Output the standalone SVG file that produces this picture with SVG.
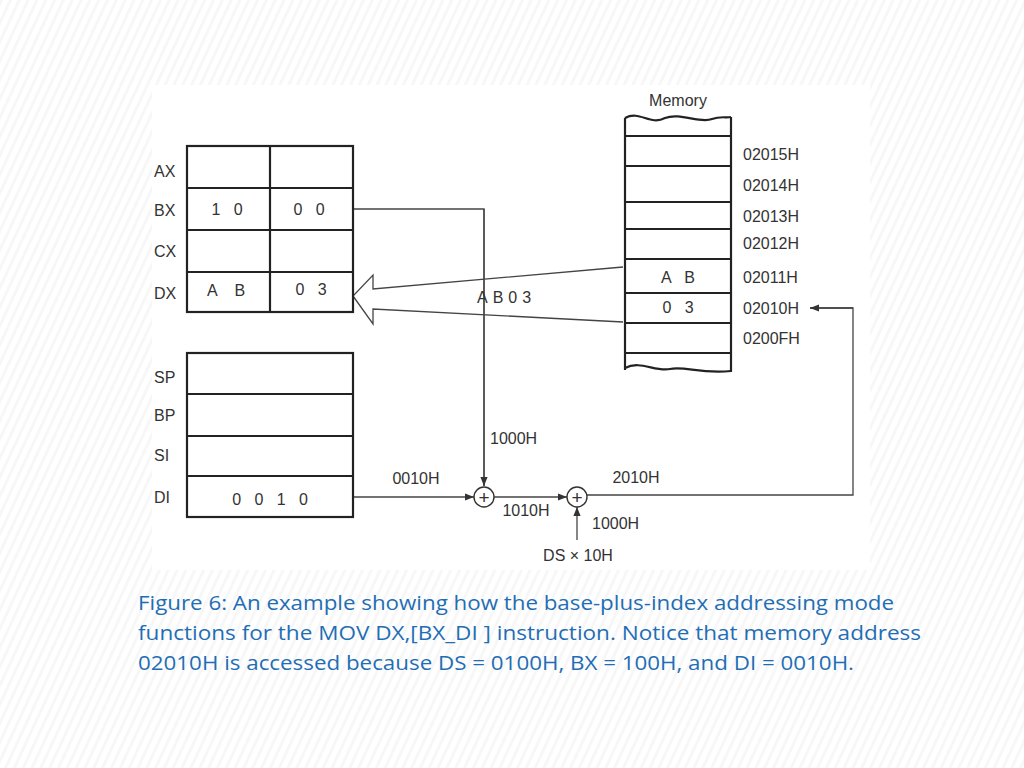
<svg xmlns="http://www.w3.org/2000/svg" width="1024" height="768" viewBox="0 0 1024 768" xml:space="preserve">
<defs>
<pattern id="stripes" width="8" height="8" patternUnits="userSpaceOnUse" patternTransform="rotate(25)">
<rect width="8" height="8" fill="#ffffff"/>
<rect width="3" height="8" fill="#f7f7f7"/>
</pattern>
<marker id="ah" viewBox="0 0 10 10" refX="10" refY="5" markerWidth="9" markerHeight="9" markerUnits="userSpaceOnUse" orient="auto">
<path d="M0,1 L10,5 L0,9 Z" fill="#333"/>
</marker>
<style>
.lbl{font-family:"Liberation Sans",Arial,sans-serif;font-size:16px;fill:#333;white-space:pre}
.plus{font-family:"Liberation Sans",Arial,sans-serif;font-size:19px;fill:#333}
.cell{fill:none;stroke:#222;stroke-width:2.2}
.ln{fill:none;stroke:#444;stroke-width:1.3}
.cap{font-family:"Open Sans","Liberation Sans",sans-serif;font-size:20px;fill:#1f6eb5}
</style>
</defs>
<rect width="1024" height="768" fill="url(#stripes)"/>
<rect x="152" y="85" width="718" height="485" fill="#ffffff"/>

<g id="connectors">
<polyline class="ln" points="353,209 484,209 484,486"/>
<line class="ln" x1="484" y1="209" x2="484" y2="486" marker-end="url(#ah)"/>
<line class="ln" x1="353" y1="497" x2="474" y2="497" marker-end="url(#ah)"/>
<line class="ln" x1="494" y1="497" x2="567" y2="497" marker-end="url(#ah)"/>
<line class="ln" x1="577" y1="540" x2="577" y2="507" marker-end="url(#ah)"/>
<polyline class="ln" points="587,495 853,495 853,308 810,308"/>
<line class="ln" x1="853" y1="308" x2="810" y2="308" marker-end="url(#ah)"/>
<path class="ln" d="M623,267 L373,289 L373,275 L353,296 L373,324 L373,309 L623,322" stroke-width="1.4"/>
</g>

<g id="registers-top">
<rect class="cell" x="187" y="146" width="166" height="166"/>
<line class="cell" x1="270" y1="146" x2="270" y2="312"/>
<line class="cell" x1="187" y1="188" x2="353" y2="188"/>
<line class="cell" x1="187" y1="230" x2="353" y2="230"/>
<line class="cell" x1="187" y1="272" x2="353" y2="272"/>
<text class="lbl" x="154" y="177">AX</text>
<text class="lbl" x="154" y="216">BX</text>
<text class="lbl" x="154" y="257">CX</text>
<text class="lbl" x="154" y="299">DX</text>
<text class="lbl" x="227" y="215" text-anchor="middle">1   0</text>
<text class="lbl" x="309" y="215" text-anchor="middle">0   0</text>
<text class="lbl" x="226" y="296" text-anchor="middle">A    B</text>
<text class="lbl" x="311" y="295" text-anchor="middle">0   3</text>
</g>

<g id="registers-bottom">
<rect class="cell" x="187" y="353" width="166" height="164"/>
<line class="cell" x1="187" y1="394" x2="353" y2="394"/>
<line class="cell" x1="187" y1="436" x2="353" y2="436"/>
<line class="cell" x1="187" y1="476" x2="353" y2="476"/>
<text class="lbl" x="154" y="383">SP</text>
<text class="lbl" x="154" y="421">BP</text>
<text class="lbl" x="154" y="461">SI</text>
<text class="lbl" x="154" y="503">DI</text>
<text class="lbl" x="270" y="505" text-anchor="middle">0   0   1   0</text>
</g>

<g id="memory">
<text class="lbl" x="678" y="106" text-anchor="middle">Memory</text>
<path d="M625,118 C640,110 650,126 665,118 C680,112 700,124 712,119 C720,116 726,118 731,117" class="cell" stroke-width="1.6"/>
<path d="M625,368 C640,360 655,372 670,369 C685,366 700,374 731,371" class="cell" stroke-width="1.6"/>
<line class="cell" x1="625" y1="118" x2="625" y2="370"/>
<line class="cell" x1="731" y1="117" x2="731" y2="372"/>
<line class="cell" x1="625" y1="136" x2="731" y2="136"/>
<line class="cell" x1="625" y1="166" x2="731" y2="166"/>
<line class="cell" x1="625" y1="202" x2="731" y2="202" stroke-width="1.4"/>
<line class="cell" x1="625" y1="229" x2="731" y2="229"/>
<line class="cell" x1="625" y1="259" x2="731" y2="259"/>
<line class="cell" x1="625" y1="293" x2="731" y2="293"/>
<line class="cell" x1="625" y1="323" x2="731" y2="323"/>
<line class="cell" x1="625" y1="353" x2="731" y2="353"/>
<text class="lbl" x="678" y="283" text-anchor="middle">A   B</text>
<text class="lbl" x="678" y="313" text-anchor="middle">0   3</text>
<text class="lbl" x="743" y="160">02015H</text>
<text class="lbl" x="743" y="191">02014H</text>
<text class="lbl" x="743" y="222">02013H</text>
<text class="lbl" x="743" y="249">02012H</text>
<text class="lbl" x="743" y="283">02011H</text>
<text class="lbl" x="743" y="314">02010H</text>
<text class="lbl" x="743" y="344">0200FH</text>
</g>

<g id="transfer-label">
<text class="lbl" x="477" y="303" letter-spacing="5">AB03</text>
</g>

<g id="adder1">
<circle cx="484" cy="497" r="10" fill="#fff" stroke="#333" stroke-width="1.4"/>
<text class="plus" x="484" y="503.5" text-anchor="middle">+</text>
</g>
<g id="adder2">
<circle cx="577" cy="497" r="10" fill="#fff" stroke="#333" stroke-width="1.4"/>
<text class="plus" x="577" y="503.5" text-anchor="middle">+</text>
</g>

<g id="labels">
<text class="lbl" x="416" y="484" text-anchor="middle">0010H</text>
<text class="lbl" x="490" y="444">1000H</text>
<text class="lbl" x="526" y="516" text-anchor="middle">1010H</text>
<text class="lbl" x="636" y="483" text-anchor="middle">2010H</text>
<text class="lbl" x="592" y="529">1000H</text>
<text class="lbl" x="578" y="561" text-anchor="middle">DS × 10H</text>
</g>

<g id="caption">
<text class="cap" x="138" y="610" textLength="756" lengthAdjust="spacingAndGlyphs">Figure 6: An example showing how the base-plus-index addressing mode</text>
<text class="cap" x="138" y="640" textLength="783" lengthAdjust="spacingAndGlyphs">functions for the MOV DX,[BX_DI ] instruction. Notice that memory address</text>
<text class="cap" x="138" y="670" textLength="716" lengthAdjust="spacingAndGlyphs">02010H is accessed because DS = 0100H, BX = 100H, and DI = 0010H.</text>
</g>
</svg>
